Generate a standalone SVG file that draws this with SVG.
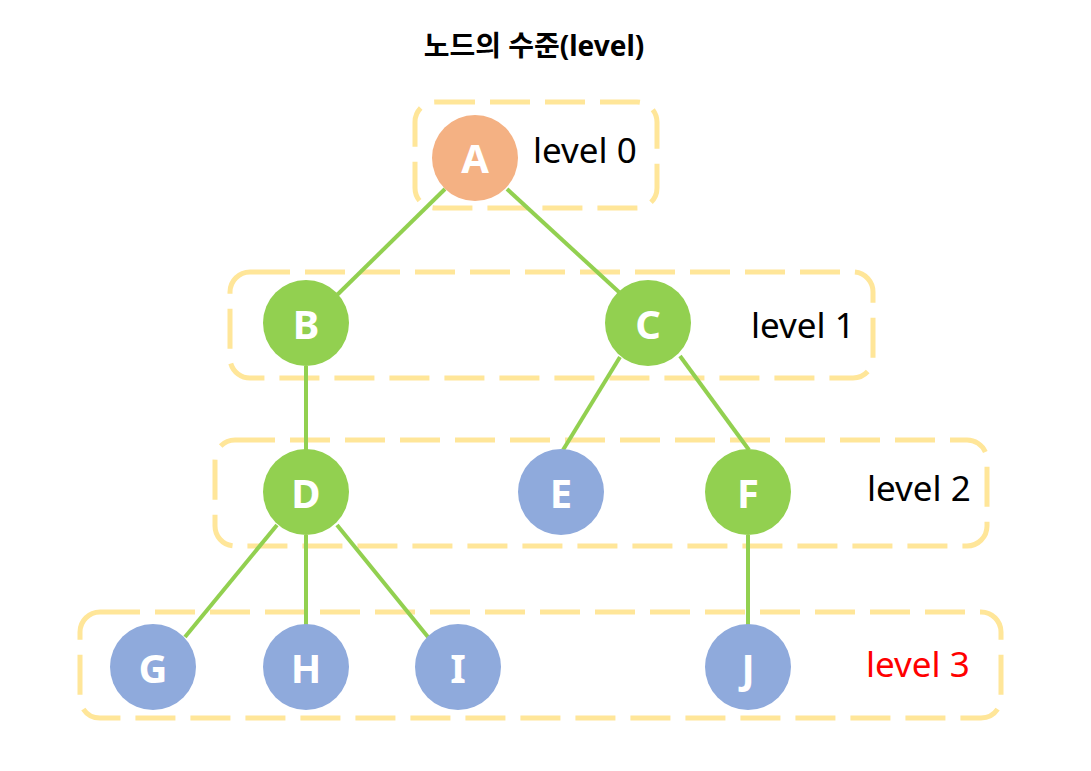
<svg xmlns="http://www.w3.org/2000/svg" width="1091" height="771" viewBox="0 0 1091 771">
<style>
.box{fill:none;stroke:#FFE699;stroke-width:5;stroke-dasharray:40 15;}
.edge{stroke:#92D050;stroke-width:4;fill:none;}
.orange{fill:#F4B183;}
.green{fill:#92D050;}
.blue{fill:#8FAADC;}
.nl{font-family:"Noto Sans","Open Sans",sans-serif;font-weight:bold;font-size:40px;fill:#ffffff;text-anchor:middle;}
.lvl{font-family:"Noto Sans","Open Sans",sans-serif;font-size:35px;fill:#000000;}
.title{font-family:"Noto Sans","Noto Sans CJK KR",sans-serif;font-weight:bold;font-size:28px;fill:#000000;text-anchor:middle;}
</style>
<rect width="1091" height="771" fill="#ffffff"/>
<text class="title" x="534" y="56">노드의 수준(level)</text>
<g id="levels">
<g id="level0"><rect class="box" x="415" y="102" width="242" height="106" rx="20"/><text class="lvl" x="533" y="163">level 0</text></g>
<g id="level1"><rect class="box" x="230" y="272" width="643" height="106" rx="20"/><text class="lvl" x="751" y="338">level 1</text></g>
<g id="level2"><rect class="box" x="215" y="440" width="772" height="106" rx="20"/><text class="lvl" x="867" y="501">level 2</text></g>
<g id="level3"><rect class="box" x="80" y="612" width="921" height="106" rx="20"/><text class="lvl" x="866" y="677" style="fill:#FF0000">level 3</text></g>
</g>
<g id="connectors">
<line class="edge" x1="445" y1="189" x2="335" y2="297"/>
<line class="edge" x1="507" y1="189" x2="620" y2="293"/>
<line class="edge" x1="306" y1="366" x2="306" y2="450"/>
<line class="edge" x1="620" y1="357" x2="563" y2="450"/>
<line class="edge" x1="680" y1="356" x2="749" y2="450"/>
<line class="edge" x1="277" y1="525" x2="185" y2="637"/>
<line class="edge" x1="306" y1="535" x2="306" y2="625"/>
<line class="edge" x1="337" y1="525" x2="428" y2="637"/>
<line class="edge" x1="748" y1="535" x2="748" y2="625"/>
</g>
<g id="node-A"><circle class="orange" cx="475" cy="158" r="43"/><text class="nl" x="475" y="173">A</text></g>
<g id="node-B"><circle class="green" cx="306" cy="323" r="43"/><text class="nl" x="306" y="339">B</text></g>
<g id="node-C"><circle class="green" cx="648" cy="323" r="43"/><text class="nl" x="648" y="339">C</text></g>
<g id="node-D"><circle class="green" cx="306" cy="492" r="43"/><text class="nl" x="306" y="508">D</text></g>
<g id="node-E"><circle class="blue" cx="561" cy="492" r="43"/><text class="nl" x="561" y="508">E</text></g>
<g id="node-F"><circle class="green" cx="748" cy="492" r="43"/><text class="nl" x="748" y="508">F</text></g>
<g id="node-G"><circle class="blue" cx="153" cy="667" r="43"/><text class="nl" x="153" y="683">G</text></g>
<g id="node-H"><circle class="blue" cx="306" cy="667" r="43"/><text class="nl" x="306" y="683">H</text></g>
<g id="node-I"><circle class="blue" cx="458" cy="667" r="43"/><text class="nl" x="458" y="683">I</text></g>
<g id="node-J"><circle class="blue" cx="748" cy="667" r="43"/><text class="nl" x="748" y="683">J</text></g>
</svg>
